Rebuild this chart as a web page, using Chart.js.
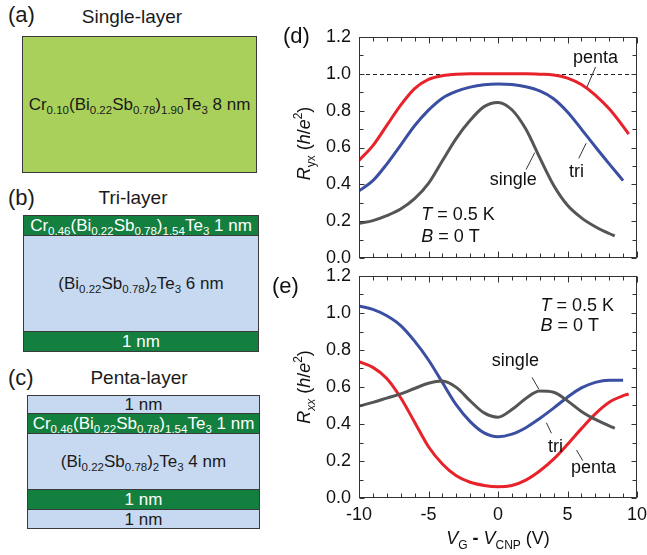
<!DOCTYPE html>
<html>
<head>
<meta charset="utf-8">
<script src="https://cdn.jsdelivr.net/npm/chart.js@4.4.0/dist/chart.umd.min.js"></script>
<style>
body{margin:0;background:#fff;width:647px;height:555px;position:relative;overflow:hidden;font-family:'Liberation Sans',Arial,Helvetica,sans-serif;color:#1a1a1a}
.lab{position:absolute;font-size:22px;line-height:25px}
.ttl{position:absolute;font-size:19px;line-height:22px;width:200px;text-align:center}
.box{position:absolute;border:1.5px solid #3a3a3a;box-sizing:border-box;display:flex;flex-direction:column}
.ly{display:flex;align-items:center;justify-content:center;font-size:17px;white-space:nowrap;box-sizing:border-box}
.ly + .ly{border-top:1.5px solid #3a3a3a}
.ly span{line-height:17px}
.g{background:#13803f;color:#fff}
.b{background:#c6d9f0}
sub{font-size:11.5px;vertical-align:-4px;line-height:0}
canvas{position:absolute;left:270px}
</style>
</head>
<body>

<!-- (a) single layer -->
<div class="lab" style="left:8px;top:2px">(a)</div>
<div class="ttl" style="left:32px;top:6px">Single-layer</div>
<div class="box" style="left:22px;top:36px;width:235px;height:137px;background:#a9d05a">
  <div class="ly" style="flex:1"><span>Cr<sub>0.10</sub>(Bi<sub>0.22</sub>Sb<sub>0.78</sub>)<sub>1.90</sub>Te<sub>3</sub>&nbsp;8 nm</span></div>
</div>

<!-- (b) tri layer -->
<div class="lab" style="left:8px;top:185px">(b)</div>
<div class="ttl" style="left:33px;top:187px">Tri-layer</div>
<div class="box" style="left:23px;top:215px;width:236px;height:137px">
  <div class="ly g" style="height:19px"><span>Cr<sub>0.46</sub>(Bi<sub>0.22</sub>Sb<sub>0.78</sub>)<sub>1.54</sub>Te<sub>3</sub>&nbsp;1 nm</span></div>
  <div class="ly b" style="flex:1"><span>(Bi<sub>0.22</sub>Sb<sub>0.78</sub>)<sub>2</sub>Te<sub>3</sub>&nbsp;6 nm</span></div>
  <div class="ly g" style="height:20px"><span>1 nm</span></div>
</div>

<!-- (c) penta layer -->
<div class="lab" style="left:8px;top:365px">(c)</div>
<div class="ttl" style="left:39px;top:367px">Penta-layer</div>
<div class="box" style="left:27px;top:395px;width:233px;height:134px">
  <div class="ly b" style="height:17px"><span>1 nm</span></div>
  <div class="ly g" style="height:20px"><span>Cr<sub>0.46</sub>(Bi<sub>0.22</sub>Sb<sub>0.78</sub>)<sub>1.54</sub>Te<sub>3</sub>&nbsp;1 nm</span></div>
  <div class="ly b" style="flex:1"><span>(Bi<sub>0.22</sub>Sb<sub>0.78</sub>)<sub>2</sub>Te<sub>3</sub>&nbsp;4 nm</span></div>
  <div class="ly g" style="height:20px"><span>1 nm</span></div>
  <div class="ly b" style="height:19px"><span>1 nm</span></div>
</div>

<canvas id="chartD" width="377" height="280" style="top:0px"></canvas>
<canvas id="chartE" width="377" height="300" style="top:255px"></canvas>

<script>
// gate voltage V_G - V_CNP (V)
const vg = [-10,-9,-8,-7,-6,-5,-4,-3,-2,-1,0,1,2,3,4,5,6,7,8,9];
const vgPenta = vg.concat([9.4]);
const vgSingle = vg.slice(0, 19).concat([8.4]);

// (d) R_yx (h/e^2)
const ryxPenta  = [0.53,0.61,0.72,0.83,0.92,0.97,0.99,0.998,1.0,1.0,1.0,1.0,1.0,0.998,0.994,0.977,0.942,0.885,0.81,0.715,0.673];
const ryxTri    = [0.365,0.42,0.51,0.613,0.718,0.803,0.868,0.905,0.928,0.941,0.945,0.942,0.93,0.907,0.865,0.793,0.70,0.604,0.511,0.42];
const ryxSingle = [0.188,0.203,0.23,0.266,0.322,0.405,0.528,0.65,0.748,0.822,0.845,0.805,0.70,0.545,0.395,0.286,0.218,0.17,0.133,0.12];

// (e) R_xx (h/e^2)
const rxxPenta  = [0.737,0.706,0.646,0.542,0.41,0.277,0.184,0.12,0.085,0.068,0.061,0.068,0.097,0.146,0.21,0.29,0.375,0.455,0.518,0.553,0.562];
const rxxTri    = [1.038,1.02,0.985,0.932,0.848,0.746,0.624,0.503,0.413,0.352,0.331,0.345,0.38,0.43,0.486,0.545,0.595,0.625,0.637,0.636];
const rxxSingle = [0.497,0.517,0.54,0.563,0.592,0.62,0.632,0.598,0.525,0.46,0.437,0.478,0.538,0.578,0.572,0.525,0.468,0.425,0.39,0.377];

// tick labels
const xTicks = [-10,-5,0,5,10];
const xTickLabels = ['-10','-5','0','5','10'];
const yTicks = [0,0.2,0.4,0.6,0.8,1.0,1.2];
const yTickLabels = ['0.0','0.2','0.4','0.6','0.8','1.0','1.2'];

const FONT = "'Liberation Sans', Arial, Helvetica, sans-serif";
const RED = '#e8222a', BLUE = '#3a4ea2', GRAY = '#555555';

Chart.defaults.font.family = FONT;
Chart.defaults.font.size = 18;
Chart.defaults.color = '#111';

function fontStr(style, size){
  const it = style.indexOf('i') >= 0 ? 'italic ' : '';
  const bd = style.indexOf('b') >= 0 ? 'bold ' : '';
  const small = style.indexOf('s') >= 0 || style.indexOf('p') >= 0;
  return it + bd + (small ? Math.round(size * 0.68) : size) + 'px ' + FONT;
}

// text with sub/superscripts and italics, parts = [[text, style], ...]
function drawRich(ctx, parts, x, y, size, align){
  let w = 0;
  parts.forEach(p => { ctx.font = fontStr(p[1], size); w += ctx.measureText(p[0]).width; });
  let cx = align === 'center' ? x - w / 2 : (align === 'right' ? x - w : x);
  ctx.textAlign = 'left';
  ctx.textBaseline = 'alphabetic';
  parts.forEach(p => {
    ctx.font = fontStr(p[1], size);
    let dy = 0;
    if (p[1].indexOf('s') >= 0) dy = size * 0.28;
    if (p[1].indexOf('p') >= 0) dy = -size * 0.42;
    ctx.fillText(p[0], cx, y + dy);
    cx += ctx.measureText(p[0]).width;
  });
}

function deco(cfg){
  return {
    id: 'deco' + cfg.name,
    beforeDatasetsDraw(chart){
      if (cfg.refLine == null) return;
      const {ctx, chartArea: a, scales: {y}} = chart;
      const py = Math.round(y.getPixelForValue(cfg.refLine)) + 0.5;
      ctx.save();
      ctx.setLineDash([4, 3]);
      ctx.strokeStyle = '#222';
      ctx.lineWidth = 1;
      ctx.beginPath();
      ctx.moveTo(a.left, py);
      ctx.lineTo(a.right, py);
      ctx.stroke();
      ctx.restore();
    },
    afterDatasetsDraw(chart){
      const {ctx, chartArea: a, scales: {x, y}} = chart;
      ctx.save();
      // frame with inward ticks
      ctx.strokeStyle = '#333';
      ctx.lineWidth = 1;
      const L = Math.round(a.left) + 0.5, R = Math.round(a.right) - 0.5;
      const T = Math.round(a.top) + 0.5, B = Math.round(a.bottom) - 0.5;
      ctx.strokeRect(L, T, R - L, B - T);
      ctx.beginPath();
      for (let v = -10; v <= 10; v++){
        const px = Math.round(x.getPixelForValue(v)) + 0.5;
        const len = v % 5 === 0 ? 6 : 4;
        ctx.moveTo(px, B); ctx.lineTo(px, B - len);
        ctx.moveTo(px, T); ctx.lineTo(px, T + len);
      }
      for (let k = 0; k <= 12; k++){
        const py = Math.round(y.getPixelForValue(k / 10)) + 0.5;
        const len = k % 2 === 0 ? 5 : 4;
        ctx.moveTo(L, py); ctx.lineTo(L + len, py);
        ctx.moveTo(R, py); ctx.lineTo(R - len, py);
      }
      ctx.stroke();

      // annotations
      ctx.fillStyle = '#111';
      cfg.notes.forEach(n => drawRich(ctx, n.parts, x.getPixelForValue(n.x), y.getPixelForValue(n.y), 18, n.align || 'center'));
      ctx.beginPath();
      cfg.leaders.forEach(l => {
        ctx.moveTo(x.getPixelForValue(l[0]), y.getPixelForValue(l[1]));
        ctx.lineTo(x.getPixelForValue(l[2]), y.getPixelForValue(l[3]));
      });
      ctx.stroke();

      // panel label
      ctx.font = '22px ' + FONT;
      ctx.textAlign = 'left';
      ctx.textBaseline = 'alphabetic';
      ctx.fillText(cfg.panel, cfg.panelX, cfg.panelY);

      // x title
      if (cfg.xTitle){
        drawRich(ctx, cfg.xTitle, (a.left + a.right) / 2, cfg.xTitleY, 18, 'center');
      }

      // y title, rotated
      ctx.translate(a.left - 56, (a.top + a.bottom) / 2 + cfg.yTitleDy);
      ctx.rotate(-Math.PI / 2);
      drawRich(ctx, cfg.yTitle, 0, 7, 18, 'center');
      ctx.restore();
    }
  };
}

function makeChart(id, sets, opts){
  return new Chart(document.getElementById(id), {
    type: 'line',
    data: {
      datasets: sets.map(s => ({
        label: s.label,
        data: s.xs.map((v, i) => ({x: v, y: s.ys[i]})),
        borderColor: s.color,
        borderWidth: 3,
        pointRadius: 0,
        cubicInterpolationMode: 'monotone',
        fill: false
      }))
    },
    options: {
      responsive: false,
      animation: false,
      layout: {padding: opts.padding},
      plugins: {legend: {display: false}, tooltip: {enabled: false}},
      scales: {
        x: {
          type: 'linear', min: -10, max: 10,
          display: opts.showX,
          grid: {display: false, drawTicks: false},
          border: {display: false},
          ticks: {padding: 6, maxRotation: 0, autoSkip: false, callback: (v, i) => xTickLabels[i]},
          afterBuildTicks: s => { s.ticks = xTicks.map(v => ({value: v})); },
          afterFit: s => { s.height = opts.xHeight; s.paddingLeft = 0; s.paddingRight = 0; }
        },
        y: {
          min: 0, max: 1.2,
          grid: {display: false, drawTicks: false},
          border: {display: false},
          ticks: {padding: 8, callback: (v, i) => yTickLabels[i]},
          afterBuildTicks: s => { s.ticks = yTicks.map(v => ({value: v})); },
          afterFit: s => { s.width = 89; s.paddingTop = 0; s.paddingBottom = 0; }
        }
      }
    },
    plugins: [deco(opts)]
  });
}

// (d) Hall resistance
makeChart('chartD', [
  {label: 'single', xs: vgSingle, ys: ryxSingle, color: GRAY},
  {label: 'tri', xs: vg, ys: ryxTri, color: BLUE},
  {label: 'penta', xs: vgPenta, ys: ryxPenta, color: RED}
], {
  name: 'D',
  showX: false,
  xHeight: 0,
  padding: {top: 37, right: 10, bottom: 22, left: 0},
  refLine: 1.0,
  panel: '(d)', panelX: 13, panelY: 43,
  yTitleDy: -4,
  yTitle: [['R', 'i'], ['yx', 's'], [' (', ''], ['h', 'i'], ['/', ''], ['e', 'i'], ['2', 'p'], [')', '']],
  notes: [
    {parts: [['penta', '']], x: 7.02, y: 1.059},
    {parts: [['tri', '']], x: 5.65, y: 0.441},
    {parts: [['single', '']], x: 1.10, y: 0.399},
    {parts: [['T', 'i'], [' = 0.5 K', '']], x: -5.53, y: 0.206, align: 'left'},
    {parts: [['B', 'i'], [' = 0 T', '']], x: -5.53, y: 0.087, align: 'left'}
  ],
  leaders: [
    [7.02, 1.037, 6.40, 0.928],
    [5.81, 0.541, 6.34, 0.623],
    [2.02, 0.48, 2.64, 0.572]
  ]
});

// (e) longitudinal resistance
makeChart('chartE', [
  {label: 'single', xs: vgSingle, ys: rxxSingle, color: GRAY},
  {label: 'tri', xs: vg, ys: rxxTri, color: BLUE},
  {label: 'penta', xs: vgPenta, ys: rxxPenta, color: RED}
], {
  name: 'E',
  showX: true,
  xHeight: 57,
  padding: {top: 21, right: 10, bottom: 0, left: 0},
  refLine: null,
  panel: '(e)', panelX: 2, panelY: 38,
  yTitleDy: 0,
  yTitle: [['R', 'i'], ['xx', 'si'], [' (', ''], ['h', 'i'], ['/', ''], ['e', 'i'], ['2', 'p'], [')', '']],
  xTitle: [['V', 'i'], ['G', 's'], [' - ', 'b'], ['V', 'i'], ['CNP', 's'], [' (V)', '']],
  xTitleY: 289,
  notes: [
    {parts: [['T', 'i'], [' = 0.5 K', '']], x: 3.05, y: 1.01, align: 'left'},
    {parts: [['B', 'i'], [' = 0 T', '']], x: 3.05, y: 0.905, align: 'left'},
    {parts: [['single', '']], x: 1.25, y: 0.711},
    {parts: [['tri', '']], x: 4.13, y: 0.249},
    {parts: [['penta', '']], x: 6.87, y: 0.135}
  ],
  leaders: [
    [2.45, 0.652, 2.93, 0.589],
    [3.48, 0.407, 3.84, 0.35],
    [5.65, 0.259, 6.10, 0.202]
  ]
});
</script>
</body>
</html>
